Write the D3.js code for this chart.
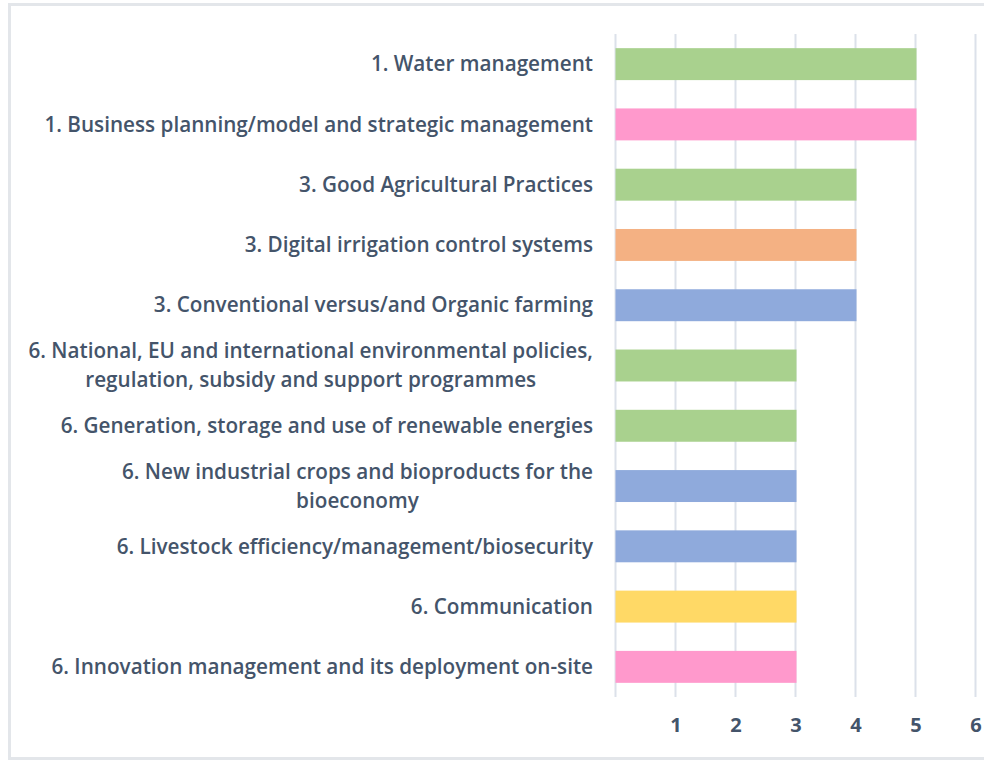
<!DOCTYPE html>
<html>
<head>
<meta charset="utf-8">
<script src="https://cdn.jsdelivr.net/npm/d3@7"></script>
<style>
  body { margin: 0; background: #fff; }
  #frame { position: absolute; left: 8px; top: 3px; width: 990px; height: 757px;
           border: 3px solid #e3e6ea; box-sizing: border-box; }
  text { font-family: "Open Sans", "Noto Sans", sans-serif; font-weight: 600; fill: #44546a; }
</style>
</head>
<body>
<div id="frame"></div>
<div id="chart" style="position:absolute;left:0;top:0;"></div>
<script>
// topics, top to bottom
const labels = [
  ["1. Water management"],
  ["1. Business planning/model and strategic management"],
  ["3. Good Agricultural Practices"],
  ["3. Digital irrigation control systems"],
  ["3. Conventional versus/and Organic farming"],
  ["6. National, EU and international environmental policies,", "regulation, subsidy and support programmes"],
  ["6. Generation, storage and use of renewable energies"],
  ["6. New industrial crops and bioproducts for the", "bioeconomy"],
  ["6. Livestock efficiency/management/biosecurity"],
  ["6. Communication"],
  ["6. Innovation management and its deployment on-site"]
];
const values = [5, 5, 4, 4, 4, 3, 3, 3, 3, 3, 3];
const groups = ["green", "pink", "green", "orange", "blue", "green", "green", "blue", "blue", "yellow", "pink"];
const ticks = [1, 2, 3, 4, 5, 6];

const palette = { green: "#a9d18e", pink: "#ff99cc", orange: "#f4b183", blue: "#8faadc", yellow: "#ffd966" };

const width = 984, height = 760;
const svg = d3.select("#chart").append("svg")
  .attr("width", width).attr("height", height);

const x = d3.scaleLinear().domain([0, 6]).range([615.5, 975.5]);
const y = d3.scaleBand().domain(d3.range(values.length)).range([34, 697]).paddingInner(0.47).paddingOuter(0.235);

// gridlines
svg.append("g").selectAll("line").data([0].concat(ticks)).enter().append("line")
  .attr("x1", d => x(d)).attr("x2", d => x(d))
  .attr("y1", 34).attr("y2", 697)
  .attr("stroke", "#dce1ea").attr("stroke-width", 2);

// bars
svg.append("g").selectAll("rect").data(values).enter().append("rect")
  .attr("x", x(0))
  .attr("y", (d, i) => y(i))
  .attr("width", d => x(d) - x(0) + 1)
  .attr("height", y.bandwidth())
  .attr("fill", (d, i) => palette[groups[i]]);

// category labels
const lab = svg.append("g").selectAll("text").data(labels).enter().append("text")
  .attr("font-size", 20.7);
lab.each(function(lines, i) {
  const cy = y(i) + y.bandwidth() / 2;
  const t = d3.select(this);
  lines.forEach((line, k) => {
    t.append("tspan")
      .attr("x", 593)
      .attr("y", cy + (k - (lines.length - 1) / 2) * 29)
      .attr("dy", "0.35em")
      .attr("text-anchor", lines.length > 1 ? "middle" : "end")
      .text(line);
  });
});

// two-line labels: right-aligned block, lines centred
lab.each(function(lines) {
  if (lines.length < 2) return;
  const spans = d3.select(this).selectAll("tspan").nodes();
  const w = spans[0].getComputedTextLength();
  const c = 593 - w / 2;
  spans.forEach(s => s.setAttribute("x", c));
});

// x axis tick labels
const xAxis = d3.axisBottom(x).tickValues(ticks).tickFormat(d3.format("d")).tickSize(0).tickPadding(0);
const ax = svg.append("g").attr("transform", "translate(0,718)").call(xAxis);
ax.select(".domain").remove();
ax.selectAll("text").attr("font-size", 20).attr("dy", "0.71em")
  .style("font-family", "'Open Sans', sans-serif").style("font-weight", 700).style("fill", "#44546a");
</script>
</body>
</html>
